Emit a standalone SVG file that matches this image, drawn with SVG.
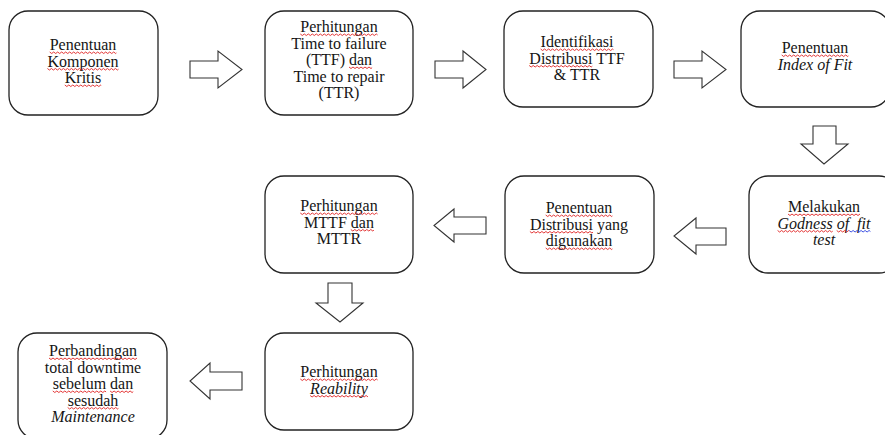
<svg xmlns="http://www.w3.org/2000/svg" width="885" height="435" viewBox="0 0 885 435">
<style>
.box{fill:#fff;stroke:#222;stroke-width:1.3}
.arr{fill:#fff;stroke:#333;stroke-width:1.1;stroke-linejoin:miter}
text{font-family:"Liberation Serif","Times New Roman",serif;font-size:16px;fill:#151515;text-anchor:middle}
.i{font-style:italic}
.r{fill:none;stroke:#e02020;stroke-width:0.9}
.b{fill:none;stroke:#2a3fe0;stroke-width:0.9}
</style>
<defs>
<path id="wv" d="M0,0 l2,1.5 2,-1.5 2,1.5 2,-1.5 2,1.5 2,-1.5 2,1.5 2,-1.5 2,1.5 2,-1.5 2,1.5 2,-1.5 2,1.5 2,-1.5 2,1.5 2,-1.5 2,1.5 2,-1.5 2,1.5 2,-1.5 2,1.5 2,-1.5 2,1.5 2,-1.5 2,1.5 2,-1.5 2,1.5 2,-1.5 2,1.5 2,-1.5 2,1.5 2,-1.5 2,1.5 2,-1.5 2,1.5 2,-1.5 2,1.5 2,-1.5 2,1.5 2,-1.5 2,1.5 2,-1.5 2,1.5 2,-1.5 2,1.5 2,-1.5 2,1.5 2,-1.5"/>
</defs>
<rect width="885" height="435" fill="#fff"/>
<g id="connectors">
<path class="arr" d="M190,61 H218 V51 L242,69.5 L218,88 V78 H190 Z"/>
<path class="arr" d="M435,61 H463 V51 L486,69.5 L463,88 V78 H435 Z"/>
<path class="arr" d="M674,61 H702 V51 L726,69.5 L702,88 V78 H674 Z"/>
<path class="arr" d="M813,126 V144 H801 L824,164 L848,144 H836 V126 Z"/>
<path class="arr" d="M726,228 H696 V218 L674,236 L696,254 V245 H726 Z"/>
<path class="arr" d="M486,217 H454 V209 L434,225.5 L454,242 V234 H486 Z"/>
<path class="arr" d="M328,283 V303 H316 L340,322 L363,303 H352 V283 Z"/>
<path class="arr" d="M242,372 H210 V363 L190,381 L210,399 V390 H242 Z"/>
</g>
<g id="n1"><rect class="box" x="9" y="11" width="149" height="104" rx="19"/>
<text x="83" y="50">Penentuan</text>
<text x="83" y="66.5">Komponen</text>
<text x="83" y="83">Kritis</text>
<use href="#wv" class="r" x="49.7" y="52" stroke-dasharray="83.4 2000"/>
<use href="#wv" class="r" x="47.4" y="68.5" stroke-dasharray="88.9 2000"/>
<use href="#wv" class="r" x="64.8" y="85" stroke-dasharray="45.5 2000"/></g>
<g id="n2"><rect class="box" x="265" y="11" width="148" height="104" rx="19"/>
<text x="339" y="32">Perhitungan</text>
<text x="339" y="48.5">Time to failure</text>
<text x="339" y="65">(TTF) dan</text>
<text x="339" y="81.5">Time to repair</text>
<text x="339" y="98">(TTR)</text>
<use href="#wv" class="r" x="300.3" y="34" stroke-dasharray="96.6 2000"/>
<use href="#wv" class="r" x="349" y="67" stroke-dasharray="28.9 2000"/></g>
<g id="n3"><rect class="box" x="504" y="11" width="149" height="96" rx="19"/>
<text x="577" y="47">Identifikasi</text>
<text x="577" y="63.5">Distribusi TTF</text>
<text x="577" y="80">&amp; TTR</text>
<use href="#wv" class="r" x="540.6" y="49" stroke-dasharray="91.1 2000"/>
<use href="#wv" class="r" x="529.2" y="65.5" stroke-dasharray="78.9 2000"/></g>
<g id="n4"><rect class="box" x="741" y="11" width="149" height="96" rx="19"/>
<text x="815" y="53">Penentuan</text>
<text x="815" y="69.5" class="i">Index of Fit</text>
<use href="#wv" class="r" x="781.7" y="55" stroke-dasharray="83.4 2000"/></g>
<g id="n5"><rect class="box" x="749" y="176" width="149" height="97" rx="19"/>
<text x="824" y="212">Melakukan</text>
<text x="824" y="228.5" class="i" xml:space="preserve">Godness of  fit</text>
<text x="824" y="245" class="i">test</text>
<use href="#wv" class="r" x="788" y="214" stroke-dasharray="90 2000"/>
<use href="#wv" class="r" x="777.6" y="230.5" stroke-dasharray="68.9 2000"/>
<use href="#wv" class="r" x="836.7" y="230.5" stroke-dasharray="15.5 2000"/>
<use href="#wv" class="b" x="849.1" y="230.5" stroke-dasharray="26.6 2000"/></g>
<g id="n6"><rect class="box" x="505" y="176" width="149" height="97" rx="19"/>
<text x="579" y="213">Penentuan</text>
<text x="579" y="229.5">Distribusi yang</text>
<text x="579" y="246">digunakan</text>
<use href="#wv" class="r" x="545.7" y="215" stroke-dasharray="83.4 2000"/>
<use href="#wv" class="r" x="529.9" y="231.5" stroke-dasharray="78.9 2000"/>
<use href="#wv" class="r" x="545.7" y="248" stroke-dasharray="83.4 2000"/></g>
<g id="n7"><rect class="box" x="265" y="176" width="148" height="97" rx="19"/>
<text x="339" y="211">Perhitungan</text>
<text x="339" y="227.5">MTTF dan</text>
<text x="339" y="244">MTTR</text>
<use href="#wv" class="r" x="300.3" y="213" stroke-dasharray="96.6 2000"/>
<use href="#wv" class="r" x="350.8" y="229.5" stroke-dasharray="28.9 2000"/></g>
<g id="n8"><rect class="box" x="265" y="333" width="148" height="97" rx="19"/>
<text x="339" y="377">Perhitungan</text>
<text x="339" y="393.5" class="i">Reability</text>
<use href="#wv" class="r" x="300.3" y="379" stroke-dasharray="96.6 2000"/>
<use href="#wv" class="r" x="310.1" y="395.5" stroke-dasharray="72.3 2000"/></g>
<g id="n9"><rect class="box" x="18" y="333" width="149" height="106" rx="19"/>
<text x="93" y="356">Perbandingan</text>
<text x="93" y="372.5">total downtime</text>
<text x="93" y="389">sebelum dan</text>
<text x="93" y="405.5">sesudah</text>
<text x="93" y="422" class="i">Maintenance</text>
<use href="#wv" class="r" x="49" y="358" stroke-dasharray="110 2000"/>
<use href="#wv" class="r" x="52.8" y="391" stroke-dasharray="66.6 2000"/>
<use href="#wv" class="r" x="110.1" y="391" stroke-dasharray="28.9 2000"/>
<use href="#wv" class="r" x="67.7" y="407.5" stroke-dasharray="63.4 2000"/></g>
</svg>
